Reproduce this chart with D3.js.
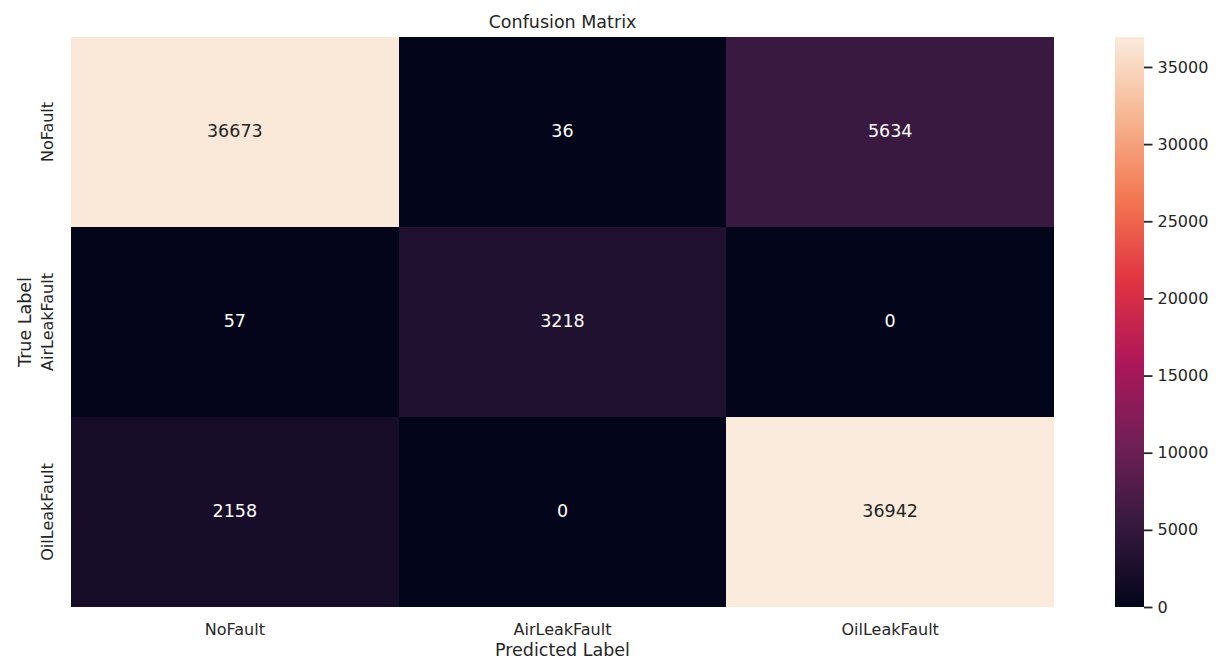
<!DOCTYPE html>
<html>
<head>
<meta charset="utf-8">
<script src="https://cdn.jsdelivr.net/npm/d3@7"></script>
<style>
  html, body { margin: 0; padding: 0; background: #ffffff; }
  svg { display: block; }
  text { font-family: "DejaVu Sans", sans-serif; }
</style>
</head>
<body>
<svg id="chart" width="1222" height="659"></svg>
<script>
// Class labels (rows = true label, columns = predicted label)
const trueLabels = ["NoFault", "AirLeakFault", "OilLeakFault"];
const predictedLabels = ["NoFault", "AirLeakFault", "OilLeakFault"];

// Confusion matrix counts, one array per true-label row
const rowNoFault = [36673, 36, 5634];
const rowAirLeakFault = [57, 3218, 0];
const rowOilLeakFault = [2158, 0, 36942];

// Colour bar ticks
const colorbarTicks = [0, 5000, 10000, 15000, 20000, 25000, 30000, 35000];

// "rocket" colour map anchor colours
const rocketStops = ["#03051a", "#35193e", "#701f57", "#ad1759", "#e13342", "#f37651", "#f6b48f", "#faebdd"];

const matrix = [rowNoFault, rowAirLeakFault, rowOilLeakFault];
const cells = [];
matrix.forEach((row, i) => row.forEach((v, j) => cells.push({ row: trueLabels[i], col: predictedLabels[j], value: v })));

const vmin = 0;
const vmax = d3.max(cells, d => d.value);

const rocket = d3.scaleLinear()
  .domain(rocketStops.map((_, i) => i / (rocketStops.length - 1)))
  .range(rocketStops)
  .interpolate(d3.interpolateRgb)
  .clamp(true);
const color = v => rocket((v - vmin) / (vmax - vmin));

const svg = d3.select("#chart");
const textColor = "#262626";

const plot = { left: 71, right: 1054, top: 37, bottom: 607 };

const x = d3.scaleBand().domain(predictedLabels).range([plot.left, plot.right]).padding(0);
const y = d3.scaleBand().domain(trueLabels).range([plot.top, plot.bottom]).padding(0);

// Heatmap cells
svg.append("g")
  .selectAll("rect")
  .data(cells)
  .join("rect")
  .attr("x", d => x(d.col))
  .attr("y", d => y(d.row))
  .attr("width", x.bandwidth())
  .attr("height", y.bandwidth())
  .attr("fill", d => color(d.value))
  .attr("shape-rendering", "crispEdges");

// Cell annotations: dark text on light cells, white on dark ones
svg.append("g")
  .selectAll("text")
  .data(cells)
  .join("text")
  .attr("x", d => x(d.col) + x.bandwidth() / 2)
  .attr("y", d => y(d.row) + y.bandwidth() / 2)
  .attr("dy", "0.28em")
  .attr("text-anchor", "middle")
  .attr("font-size", "17.5px")
  .attr("fill", d => (d.value - vmin) / (vmax - vmin) > 0.5 ? textColor : "#ffffff")
  .text(d => d.value);

// X axis tick labels (no tick marks)
const xAxis = d3.axisBottom(x).tickSize(0).tickPadding(0);
const gx = svg.append("g").attr("transform", `translate(0,${plot.bottom})`).call(xAxis);
gx.select(".domain").remove();
gx.selectAll("text")
  .attr("y", 28)
  .attr("dy", 0)
  .attr("font-size", "16px")
  .attr("font-family", "DejaVu Sans")
  .attr("fill", textColor);

// Y axis tick labels, rotated vertically
const yAxis = d3.axisLeft(y).tickSize(0).tickPadding(0);
const gy = svg.append("g").attr("transform", `translate(${plot.left},0)`).call(yAxis);
gy.select(".domain").remove();
gy.selectAll("text")
  .attr("x", 0)
  .attr("dy", 0)
  .attr("transform", "translate(-18,0) rotate(-90)")
  .attr("text-anchor", "middle")
  .attr("font-size", "16px")
  .attr("font-family", "DejaVu Sans")
  .attr("fill", textColor);

// Title and axis labels
svg.append("text")
  .attr("x", (plot.left + plot.right) / 2)
  .attr("y", 28)
  .attr("text-anchor", "middle")
  .attr("font-size", "17.5px")
  .attr("fill", textColor)
  .text("Confusion Matrix");

svg.append("text")
  .attr("x", (plot.left + plot.right) / 2)
  .attr("y", 655.5)
  .attr("text-anchor", "middle")
  .attr("font-size", "17.5px")
  .attr("fill", textColor)
  .text("Predicted Label");

svg.append("text")
  .attr("transform", `translate(30.5,${(plot.top + plot.bottom) / 2}) rotate(-90)`)
  .attr("text-anchor", "middle")
  .attr("font-size", "17.5px")
  .attr("fill", textColor)
  .text("True Label");

// Colour bar, filled with a vertical gradient sampled from the colour map
const cbar = { left: 1115, width: 29, top: 37, bottom: 607 };
const cy = d3.scaleLinear().domain([vmin, vmax]).range([cbar.bottom, cbar.top]);

const grad = svg.append("defs").append("linearGradient")
  .attr("id", "cbar-grad")
  .attr("x1", 0).attr("y1", 1).attr("x2", 0).attr("y2", 0);
grad.selectAll("stop")
  .data(d3.range(0, 101).map(i => i / 100))
  .join("stop")
  .attr("offset", t => t)
  .attr("stop-color", t => rocket(t));

svg.append("rect")
  .attr("x", cbar.left)
  .attr("y", cy(vmax))
  .attr("width", cbar.width)
  .attr("height", cy(vmin) - cy(vmax))
  .attr("fill", "url(#cbar-grad)");

const cAxis = d3.axisRight(cy).tickValues(colorbarTicks).tickSize(8.5).tickPadding(5).tickFormat(d3.format("d"));
const gc = svg.append("g").attr("transform", `translate(${cbar.left + cbar.width},0)`).call(cAxis);
gc.select(".domain").remove();
gc.selectAll("line").attr("stroke", textColor).attr("stroke-width", 1.8);
gc.selectAll("text")
  .attr("font-size", "16px")
  .attr("font-family", "DejaVu Sans")
  .attr("fill", textColor);
</script>
</body>
</html>
